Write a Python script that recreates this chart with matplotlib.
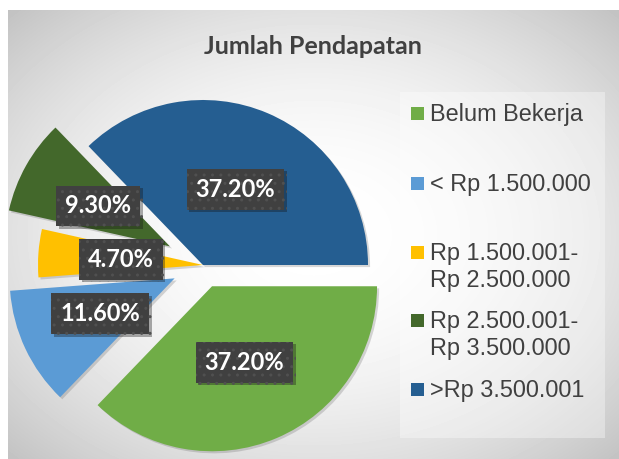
import numpy as np
import matplotlib
matplotlib.use('Agg')
import matplotlib.pyplot as plt
from matplotlib.patches import Rectangle
import matplotlib.patheffects as pe

# ---- data ----
categories = ['Belum Bekerja', '< Rp 1.500.000', 'Rp 1.500.001-\nRp 2.500.000',
              'Rp 2.500.001-\nRp 3.500.000', '>Rp 3.500.001']
values = [37.2, 11.6, 4.7, 9.3, 37.2]
title = 'Jumlah Pendapatan'

# ---- style ----
colors = ['#70AD47', '#5B9BD5', '#FFC000', '#43682B', '#255E91']
explode_frac = [0.14, 0.19, 0.0, 0.23, 0.0]
W, H = 619, 459
R = 165
CENTER = (203, H - 265)
legend_y = [113, 183, 252, 320, 389]   # image px of first-line centers
line_gap = 27

fig = plt.figure(figsize=(W / 100, H / 100), dpi=100)
fig.patch.set_facecolor('white')

# background gradient (chart area)
bg = fig.add_axes([0, 0, 1, 1])
bg.axis('off')
x0, x1, y0, y1 = 8, W, 10, H
yy, xx = np.mgrid[y0:y1, x0:x1]
cx, cy = (x0 + x1) / 2, (y0 + y1) / 2
d2 = (((xx - cx) / ((x1 - x0) / 2)) ** 2 + ((yy - cy) / ((y1 - y0) / 2)) ** 2) / 2
g = 1 - 0.24 * d2
bg.imshow(g, cmap='gray', vmin=0, vmax=1, extent=(x0, x1, y1, y0),
          interpolation='bilinear', aspect='auto')
bg.set_xlim(0, W)
bg.set_ylim(H, 0)
# legend panel
bg.add_patch(Rectangle((400, 92), 205, 346, facecolor='white', alpha=0.35,
                       edgecolor='none'))

# pie
ax = fig.add_axes([0, 0, 1, 1])
ax.patch.set_alpha(0)
explode = [e * R for e in explode_frac]
wedges, texts, autotexts = ax.pie(
    values, explode=explode, colors=colors, startangle=0, counterclock=False,
    radius=R, center=CENTER, autopct='%.2f%%', pctdistance=0.5,
    wedgeprops=dict(linewidth=0),
    textprops=dict(color='white', fontsize=17, fontweight='bold', family='Lato'))
for w in wedges:
    w.set_path_effects([pe.SimplePatchShadow(offset=(1.5, -1.5), alpha=0.25,
                                             shadow_rgbFace='#606060'), pe.Normal()])
for t in autotexts:
    t.set_bbox(dict(boxstyle='square,pad=0.38', facecolor='#404040',
                    edgecolor='#505050', linewidth=0, hatch='..'))
    t.get_bbox_patch().set_path_effects([pe.SimplePatchShadow(offset=(2, -2), alpha=0.35),
                                         pe.Normal()])
ax.set_xlim(0, W)
ax.set_ylim(0, H)
ax.set_aspect('auto')
ax.axis('off')

# title
fig.text(313 / W, 1 - 46 / H, title, ha='center', va='center', fontsize=18,
         fontweight='bold', color='#404040', family='Lato')

# legend (manual)
for cat, col, ly in zip(categories, colors, legend_y):
    bg.add_patch(Rectangle((411, ly - 6.5), 13, 13, facecolor=col, edgecolor='none'))
    for k, line in enumerate(cat.split('\n')):
        bg.text(430, ly + 8.4 + k * line_gap, line, ha='left', va='baseline',
                fontsize=16.9, color='#404040', family='Liberation Sans')

fig.savefig('out.png', dpi=100)
